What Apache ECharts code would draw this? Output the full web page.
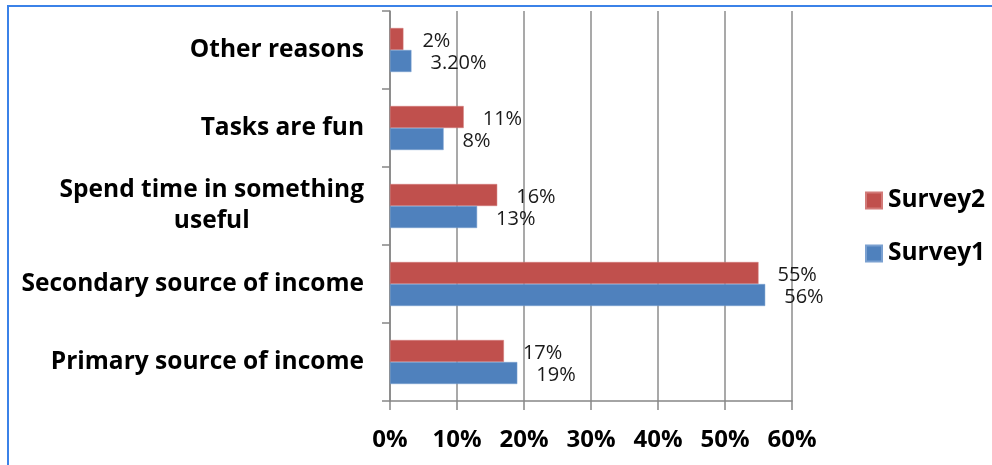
<!DOCTYPE html>
<html>
<head>
<meta charset="utf-8">
<script src="https://cdn.jsdelivr.net/npm/echarts@6/dist/echarts.min.js"></script>
<style>
  html, body { margin: 0; padding: 0; background: #fff; }
  #chart { width: 992px; height: 465px; }
</style>
</head>
<body>
<div id="chart"></div>
<script>
// categories listed bottom to top (category axis grows upward)
var categories = ['Primary source of income', 'Secondary source of income', 'Spend time in something\nuseful', 'Tasks are fun', 'Other reasons'];
var survey1 = [19, 56, 13, 8, 3.2];
var survey2 = [17, 55, 16, 11, 2];
var survey1Labels = ['19%', '56%', '13%', '8%', '3.20%'];
var survey2Labels = ['17%', '55%', '16%', '11%', '2%'];
var seriesNames = ['Survey2', 'Survey1'];

var chart = echarts.init(document.getElementById('chart'));

var catFont = { fontFamily: 'Open Sans', fontWeight: 'bold', fontSize: 24.5, color: '#000' };
var tickFont = { fontFamily: 'Open Sans', fontWeight: 'bold', fontSize: 24, color: '#000' };
var valueLabel = function (labels) {
  return {
    show: true,
    position: 'right',
    distance: 19,
    offset: [0, 2],
    fontFamily: 'Open Sans',
    fontSize: 20,
    color: '#1a1a1a',
    formatter: function (p) { return labels[p.dataIndex]; }
  };
};

chart.setOption({
  animation: false,
  backgroundColor: '#fff',
  graphic: [{
    type: 'rect',
    shape: { x: 8, y: 6, width: 1200, height: 800 },
    style: { fill: 'none', stroke: '#3b82e8', lineWidth: 2 },
    silent: true
  }],
  grid: { left: 390, right: 200, top: 11, bottom: 64 },
  legend: {
    data: seriesNames,
    orient: 'vertical',
    left: 865,
    top: 188,
    padding: 0,
    itemWidth: 16,
    itemHeight: 16,
    itemGap: 28,
    icon: 'rect',
    textStyle: { fontFamily: 'Open Sans', fontWeight: 'bold', fontSize: 24.5, color: '#000', lineHeight: 25, padding: [0, 0, 0, 1] }
  },
  xAxis: {
    type: 'value',
    min: 0,
    max: 60,
    interval: 10,
    axisLine: { show: true, lineStyle: { color: '#868686', width: 1.5 } },
    axisTick: { show: true, length: 9, lineStyle: { color: '#868686', width: 1.5 } },
    splitLine: { show: true, lineStyle: { color: '#8c8c8c', width: 1.5 } },
    axisLabel: Object.assign({ margin: 27, formatter: '{value}%' }, tickFont)
  },
  yAxis: {
    type: 'category',
    data: categories,
    axisLine: { show: true, lineStyle: { color: '#868686', width: 1.5 } },
    axisTick: { show: true, length: 8, lineStyle: { color: '#868686', width: 1.5 } },
    axisLabel: Object.assign({
      margin: 26,
      lineHeight: 31,
      formatter: function (v) {
        return v.split('\n').map(function (s) { return '{c|' + s + '}'; }).join('\n');
      },
      rich: { c: Object.assign({ align: 'center', lineHeight: 31 }, catFont) }
    }, catFont)
  },
  series: [
    {
      name: 'Survey2',
      type: 'bar',
      data: survey2,
      barWidth: 22,
      barGap: '0%',
      itemStyle: { color: '#c0504d', borderColor: '#d27a78', borderWidth: 0.5 },
      label: valueLabel(survey2Labels)
    },
    {
      name: 'Survey1',
      type: 'bar',
      data: survey1,
      barWidth: 22,
      barGap: '0%',
      itemStyle: { color: '#4f81bd', borderColor: '#7aa0d0', borderWidth: 0.5 },
      label: valueLabel(survey1Labels)
    }
  ]
});
</script>
</body>
</html>
